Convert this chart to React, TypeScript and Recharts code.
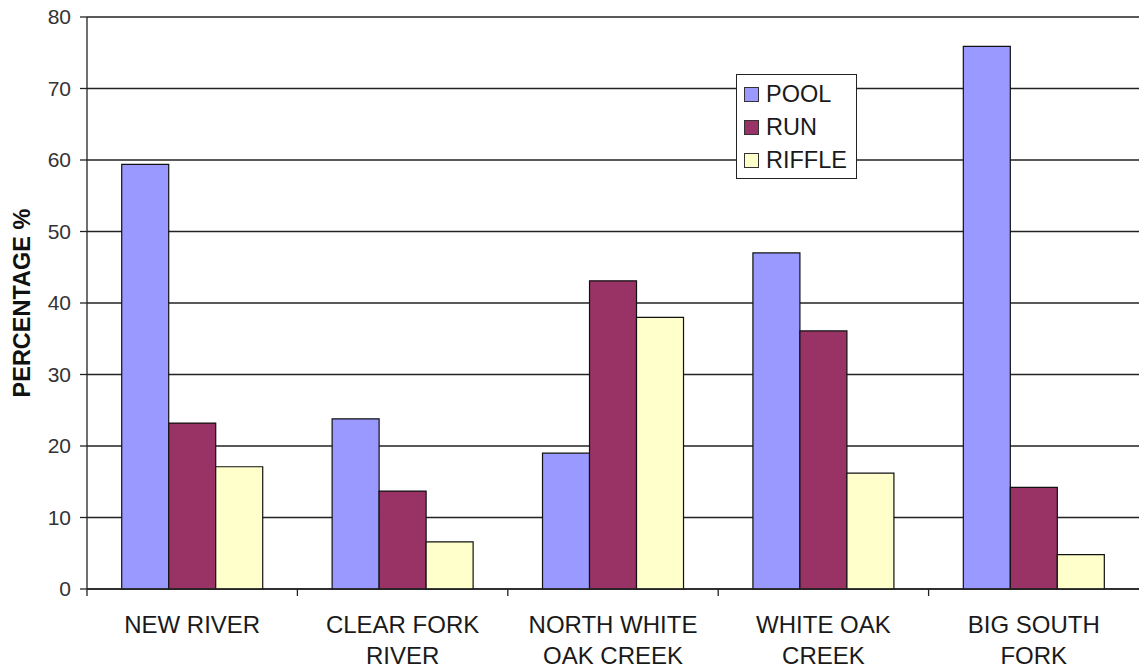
import { BarChart, Bar, XAxis, YAxis, CartesianGrid } from "recharts";

const SITES = [
  "NEW RIVER",
  "CLEAR FORK\nRIVER",
  "NORTH WHITE\nOAK CREEK",
  "WHITE OAK\nCREEK",
  "BIG SOUTH\nFORK",
];
const POOL = [59.4, 23.8, 19.0, 47.0, 75.9];
const RUN = [23.2, 13.7, 43.1, 36.1, 14.2];
const RIFFLE = [17.1, 6.6, 38.0, 16.2, 4.8];
const Y_TICKS = [0, 10, 20, 30, 40, 50, 60, 70, 80];

const SERIES = [
  { key: "POOL", color: "#9999FF" },
  { key: "RUN", color: "#993366" },
  { key: "RIFFLE", color: "#FFFFCC" },
];

const FONT = "'Liberation Sans', Arial, sans-serif";

const data = SITES.map((site, i) => ({
  site,
  POOL: POOL[i],
  RUN: RUN[i],
  RIFFLE: RIFFLE[i],
}));

function SiteTick(props: any) {
  const { x, y, payload } = props;
  const half = payload?.offset ?? 105;
  const lines = String(payload.value).split("\n");
  return (
    <g>
      <line x1={x - half} y1={y - 8} x2={x - half} y2={y - 1} stroke="#222" strokeWidth={1.3} />
      <text
        x={x}
        y={y + 36}
        textAnchor="middle"
        fontSize={24}
        fontFamily={FONT}
        fill="#1a1a1a"
      >
        {lines.map((ln, i) => (
          <tspan key={i} x={x} dy={i === 0 ? 0 : 31}>
            {ln}
          </tspan>
        ))}
      </text>
    </g>
  );
}

function LegendBox() {
  return (
    <div
      style={{
        position: "absolute",
        left: 736,
        top: 74,
        width: 119,
        height: 100,
        border: "1px solid #222",
        background: "#fff",
        fontFamily: FONT,
        fontSize: 23.5,
        color: "#1a1a1a",
        paddingTop: 3,
      }}
    >
      {SERIES.map((s) => (
        <div key={s.key} style={{ display: "flex", alignItems: "center", height: 33, paddingLeft: 7 }}>
          <div
            style={{
              width: 13,
              height: 13,
              background: s.color,
              border: "1px solid #333",
              marginRight: 7,
            }}
          />
          <span>{s.key}</span>
        </div>
      ))}
    </div>
  );
}

function YLabel(props: any) {
  const { viewBox } = props;
  const cx = 22;
  const cy = viewBox.y + viewBox.height / 2;
  return (
    <text
      x={cx}
      y={cy}
      transform={`rotate(-90 ${cx} ${cy})`}
      textAnchor="middle"
      dominantBaseline="central"
      fontSize={23.5}
      fontWeight="bold"
      fontFamily={FONT}
      fill="#111"
    >
      PERCENTAGE %
    </text>
  );
}

export default function App() {
  return (
    <div style={{ position: "absolute", left: 0, top: 0, width: 1139, height: 671, overflow: "hidden", background: "#fff" }}>
      <BarChart
        width={1139}
        height={671}
        data={data}
        margin={{ top: 17, right: 0, left: 0, bottom: 0 }}
        barCategoryGap="16.5%"
        barGap={0}
      >
        <CartesianGrid horizontal vertical={false} stroke="#222" strokeWidth={1.3} />
        <XAxis
          dataKey="site"
          height={82}
          interval={0}
          axisLine={{ stroke: "#222", strokeWidth: 1.3 }}
          tickLine={false}
          tick={<SiteTick />}
        />
        <YAxis
          width={87}
          domain={[0, 80]}
          ticks={Y_TICKS}
          interval={0}
          tickSize={7}
          tickMargin={9}
          axisLine={{ stroke: "#222", strokeWidth: 1.3 }}
          tickLine={{ stroke: "#222", strokeWidth: 1.3 }}
          tick={{ fontSize: 21, fill: "#333", fontFamily: FONT }}
          label={<YLabel />}
        />
        {SERIES.map((s) => (
          <Bar
            key={s.key}
            dataKey={s.key}
            fill={s.color}
            stroke="#111"
            strokeWidth={1.2}
            isAnimationActive={false}
          />
        ))}
      </BarChart>
      <LegendBox />
    </div>
  );
}
